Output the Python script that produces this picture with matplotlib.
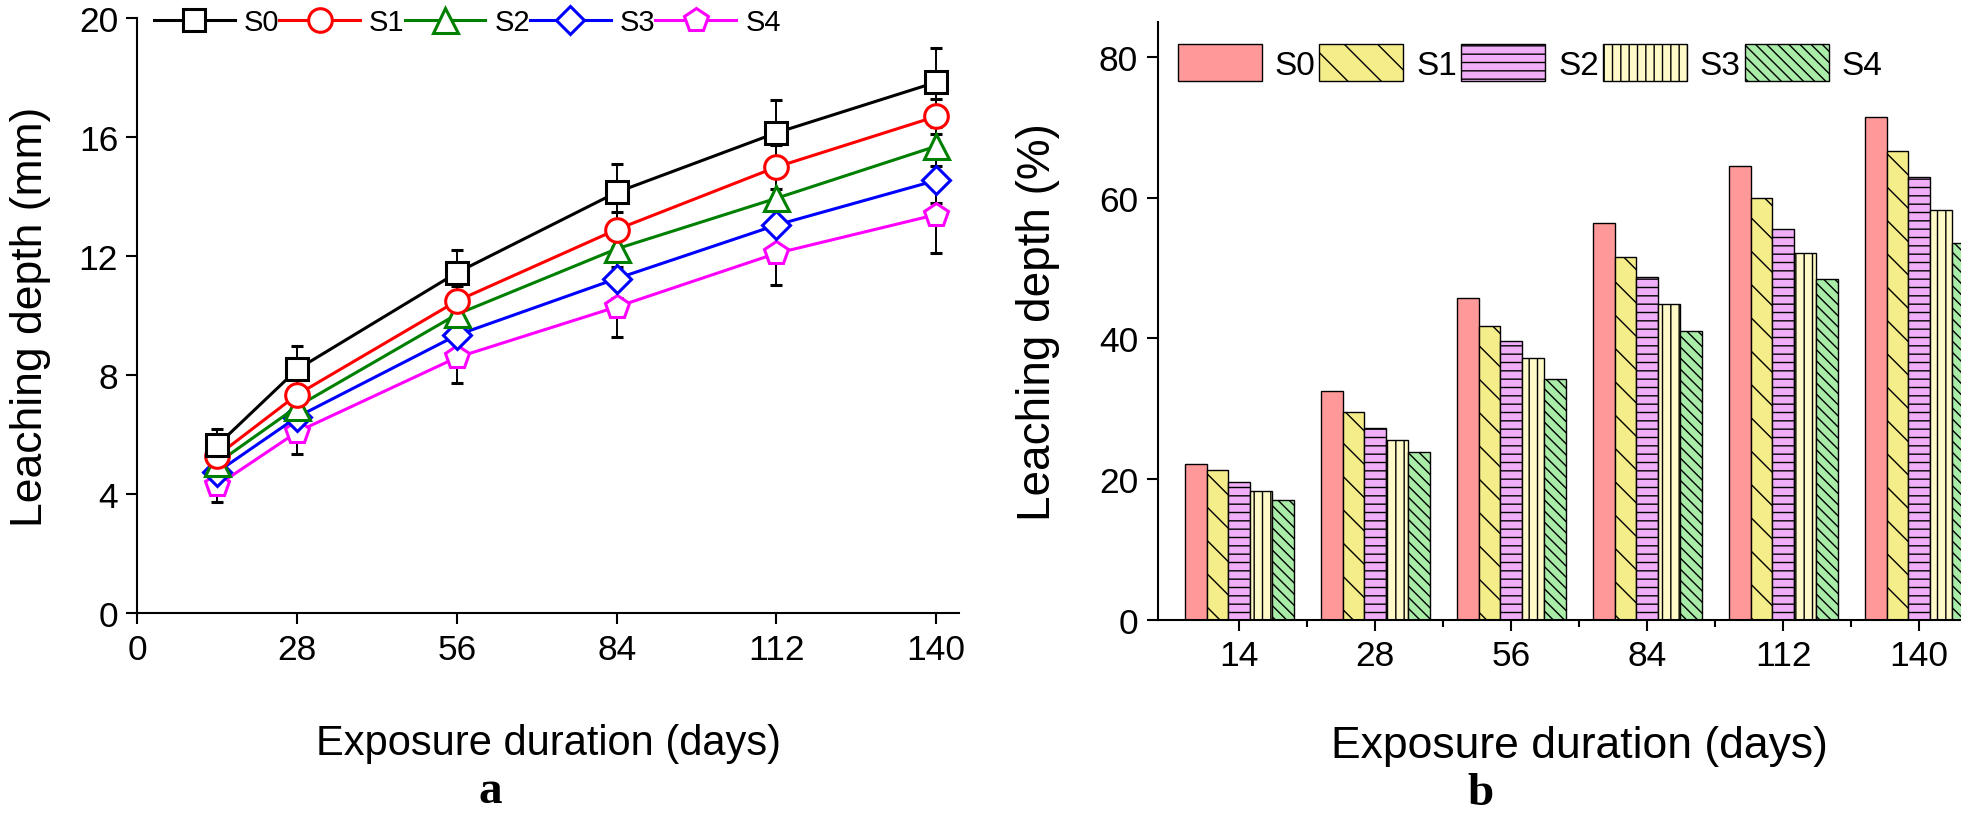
import numpy as np
import matplotlib
matplotlib.use("Agg")
import matplotlib.pyplot as plt

plt.rcParams['font.family'] = ['Liberation Sans', 'DejaVu Sans']
plt.rcParams['hatch.linewidth'] = 1.0

# datos panel a (profundidad de lixiviacion, mm)
dias = [14, 28, 56, 84, 112, 140]
series = ['S0', 'S1', 'S2', 'S3', 'S4']
prof_S0 = [5.65, 8.2, 11.45, 14.15, 16.15, 17.85]
prof_S1 = [5.3, 7.35, 10.5, 12.9, 15.0, 16.7]
prof_S2 = [5.05, 6.95, 10.05, 12.25, 13.95, 15.7]
prof_S3 = [4.75, 6.6, 9.35, 11.25, 13.05, 14.55]
prof_S4 = [4.3, 6.1, 8.6, 10.3, 12.1, 13.4]
err_S0 = [0.55, 0.8, 0.75, 0.95, 1.1, 1.15]
err_S1 = [0.45, 0.55, 0.5, 0.6, 0.75, 0.6]
err_S2 = [0.4, 0.5, 0.55, 0.6, 0.7, 0.65]
err_S3 = [0.45, 0.6, 0.7, 0.65, 0.9, 0.75]
err_S4 = [0.55, 0.75, 0.87, 1.0, 1.05, 1.3]

# datos panel b (profundidad de lixiviacion, %)
etiquetas_x = ['14', '28', '56', '84', '112', '140']
pct_S0 = [22.2, 32.5, 45.7, 56.4, 64.5, 71.5]
pct_S1 = [21.3, 29.5, 41.8, 51.6, 59.9, 66.7]
pct_S2 = [19.6, 27.3, 39.7, 48.8, 55.6, 62.9]
pct_S3 = [18.3, 25.5, 37.2, 44.9, 52.2, 58.2]
pct_S4 = [17.0, 23.9, 34.2, 41.0, 48.4, 53.5]

colores_a = ['black', 'red', '#008000', 'blue', 'magenta']
marcadores = ['s', 'o', '^', 'D', 'p']
tamanos = [16, 17, 18, 14, 18]
colores_b = ['#FF9999', '#F5EC8A', '#F0AEF8', '#FFFAC8', '#A8ECA8']
tramas = ['', '\\', '--', '||', '\\\\\\']

fig = plt.figure(figsize=(19.61, 8.2), dpi=100)

# ---- panel a ----
ax1 = fig.add_axes([0.0701, 0.2508, 0.4189, 0.7257])
profs = [prof_S0, prof_S1, prof_S2, prof_S3, prof_S4]
errs = [err_S0, err_S1, err_S2, err_S3, err_S4]
lineas = []
for i in range(5):
    cont = ax1.errorbar(dias, profs[i], yerr=errs[i], color=colores_a[i], marker=marcadores[i],
                        markersize=tamanos[i], markerfacecolor='white',
                        markeredgewidth=2.2, linewidth=2.2, ecolor='black', elinewidth=1.4,
                        capsize=4, capthick=1.4, label=series[i], zorder=3 - i * 0.1)
    lineas.append(cont.lines[0])
ax1.set_xlim(0, 144)
ax1.set_ylim(0, 20)
ax1.set_xticks([0, 28, 56, 84, 112, 140])
ax1.set_yticks([0, 4, 8, 12, 16, 20])
ax1.set_xlabel('Exposure duration (days)', fontsize=30, labelpad=41)
ax1.set_ylabel('Leaching depth (mm)', fontsize=32, labelpad=20)
ax1.legend(handles=lineas, labels=series, ncol=5, loc='center left',
           bbox_to_anchor=(0.02, 0.994), frameon=False,
           fontsize=21, handlelength=2.77, handletextpad=0.31, columnspacing=0.0,
           borderaxespad=0.0, borderpad=0.0)

# ---- panel b ----
ax2 = fig.add_axes([0.5903, 0.243, 0.43, 0.729])
x = np.arange(len(etiquetas_x))
ancho = 0.16
pcts = [pct_S0, pct_S1, pct_S2, pct_S3, pct_S4]
for i in range(5):
    ax2.bar(x + (i - 2) * ancho, pcts[i], width=ancho, color=colores_b[i],
            edgecolor='black', linewidth=1.0, hatch=tramas[i], label=series[i])
ax2.set_xlim(-0.6, 5.6)
ax2.set_ylim(0, 85)
ax2.set_xticks(x)
ax2.set_xticklabels(etiquetas_x)
ax2.set_xticks(x[:-1] + 0.5, minor=True)
ax2.set_yticks([0, 20, 40, 60, 80])
ax2.set_xlabel('Exposure duration (days)', fontsize=32, labelpad=38)
ax2.set_ylabel('Leaching depth (%)', fontsize=33, labelpad=28)
ax2.legend(ncol=5, loc='upper left', bbox_to_anchor=(0.008, 0.985), frameon=False,
           fontsize=24, handlelength=2.52, handleheight=1.3, handletextpad=0.39,
           columnspacing=0.12, borderaxespad=0.0)

for ax in (ax1, ax2):
    ax.spines['top'].set_visible(False)
    ax.spines['right'].set_visible(False)
    ax.spines['left'].set_linewidth(1.5)
    ax.spines['bottom'].set_linewidth(1.5)
    ax.tick_params(axis='both', which='major', labelsize=25.5, length=8, width=1.5,
                   direction='out', pad=6)
    ax.tick_params(axis='x', which='minor', length=5, width=1.5, direction='out')

fig.text(490 / 1961, 1 - 792 / 820, 'a', ha='center', va='center', fontsize=34,
         fontweight='bold', family=['Liberation Serif', 'DejaVu Serif'])
fig.text(1481 / 1961, 1 - 794 / 820, 'b', ha='center', va='center', fontsize=34,
         fontweight='bold', family=['Liberation Serif', 'DejaVu Serif'])

fig.savefig('out.png', dpi=100)
